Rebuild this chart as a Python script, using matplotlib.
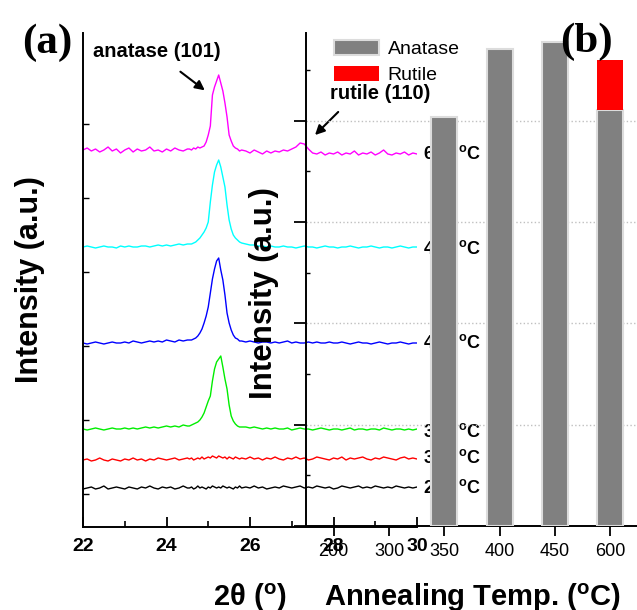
import numpy as np
import matplotlib
matplotlib.use('Agg')
import matplotlib.pyplot as plt
from matplotlib.ticker import FixedLocator

plt.rcParams['font.family'] = ['Liberation Sans', 'DejaVu Sans']
plt.rcParams['mathtext.fontset'] = 'custom'
plt.rcParams['mathtext.rm'] = 'Liberation Sans'
plt.rcParams['mathtext.bf'] = 'Liberation Sans:bold'

# --- (a) XRD curves, 2theta grid (deg) ---
x_left = [22.0, 22.1, 22.2, 22.3, 22.4, 22.5, 22.6, 22.7, 22.8, 22.9, 23.0, 23.1, 23.2,
          23.3, 23.4, 23.5, 23.6, 23.7, 23.8, 23.9, 24.0, 24.1, 24.2, 24.3, 24.4, 24.5]
x_peak = [24.55, 24.6, 24.65, 24.7, 24.75, 24.8, 24.85, 24.9, 24.95, 25.0, 25.05, 25.1, 25.15,
          25.2, 25.25, 25.3, 25.35, 25.4, 25.45, 25.5, 25.55, 25.6, 25.65, 25.7, 25.75, 25.8]
x_right = [25.9, 26.0, 26.1, 26.2, 26.3, 26.4, 26.5, 26.6, 26.7, 26.8, 26.9, 27.0, 27.1, 27.2,
           27.3, 27.4, 27.5, 27.6, 27.7, 27.8, 27.9, 28.0, 28.1, 28.2, 28.3, 28.4, 28.5, 28.6,
           28.7, 28.8, 28.9, 29.0, 29.1, 29.2, 29.3, 29.4, 29.5, 29.6, 29.7, 29.8, 29.9, 30.0]
two_theta = x_left + x_peak + x_right

# intensities (a.u., curves offset as in the figure)
i_600 = [377, 379, 376, 378, 375, 377, 380, 376, 378, 374, 377, 379, 375, 378, 376, 377, 380, 376, 377, 375, 378, 376, 379, 377, 376, 378,
         378, 377, 379, 378, 380, 379, 380, 381, 385, 392, 401, 432, 440, 446, 452, 444, 436, 424, 410, 392, 386, 381, 379, 378, 376, 377,
         376, 374, 377, 375, 373, 376, 374, 376, 375, 377, 376, 378, 380, 384, 383, 378, 374, 373, 375, 372, 374, 373, 375, 372, 374, 373,
         376, 372, 374, 373, 375, 372, 374, 377, 373, 372, 374, 373, 375, 372, 374, 373]
i_450 = [280, 281, 280, 279, 280, 281, 280, 280, 279, 281, 280, 281, 280, 280, 281, 281, 280, 281, 282, 281, 282, 281, 282, 283, 282, 283,
         283, 283, 284, 285, 287, 289, 292, 295, 299, 305, 325, 342, 355, 362, 367, 360, 350, 340, 322, 307, 298, 292, 289, 287, 285, 284,
         283, 282, 282, 281, 281, 280, 281, 280, 280, 281, 280, 280, 279, 280, 281, 280, 280, 279, 280, 281, 280, 280, 279, 280, 280, 281,
         280, 279, 280, 280, 281, 280, 279, 280, 280, 279, 280, 281, 280, 279, 280, 280]
i_400 = [184, 183, 184, 185, 184, 183, 184, 185, 184, 184, 185, 184, 186, 185, 184, 185, 186, 185, 186, 185, 187, 186, 185, 187, 186, 187,
         187, 187, 188, 189, 191, 194, 198, 204, 211, 220, 234, 248, 258, 266, 269, 257, 247, 232, 214, 204, 197, 192, 189, 188, 186, 186,
         185, 186, 185, 184, 185, 185, 184, 185, 184, 185, 186, 184, 185, 184, 184, 185, 184, 185, 184, 184, 185, 184, 184, 185, 184, 183,
         184, 185, 184, 184, 183, 184, 185, 184, 183, 184, 184, 185, 184, 183, 184, 184]
i_350 = [98, 97, 98, 99, 98, 97, 98, 99, 98, 98, 99, 98, 99, 98, 99, 100, 99, 100, 99, 100, 101, 100, 101, 100, 102, 101,
         101, 102, 103, 104, 105, 107, 110, 114, 120, 126, 131, 146, 158, 165, 168, 171, 160, 148, 138, 122, 111, 106, 103, 101, 100, 100,
         100, 99, 100, 99, 98, 99, 98, 99, 98, 98, 99, 97, 98, 99, 98, 98, 97, 98, 99, 98, 97, 98, 98, 97, 98, 99,
         97, 98, 98, 97, 98, 98, 97, 99, 98, 97, 98, 98, 97, 98, 97, 98]
i_300 = [67, 68, 66, 67, 69, 67, 66, 68, 67, 66, 68, 67, 69, 67, 68, 66, 68, 67, 69, 68, 67, 68, 69, 67, 68, 69,
         68, 69, 67, 68, 69, 68, 70, 68, 69, 70, 69, 71, 70, 69, 71, 70, 69, 70, 68, 70, 69, 68, 70, 69, 68, 69,
         68, 70, 68, 69, 67, 69, 68, 70, 68, 67, 69, 68, 70, 68, 69, 67, 68, 70, 69, 68, 67, 69, 68, 70, 67, 69,
         68, 69, 70, 68, 67, 69, 68, 70, 69, 68, 67, 69, 70, 68, 69, 68]
i_200 = [38, 39, 40, 38, 39, 41, 38, 39, 40, 39, 38, 40, 39, 38, 40, 39, 41, 39, 38, 40, 39, 40, 38, 39, 41, 39,
         39, 40, 38, 39, 41, 39, 40, 39, 38, 40, 39, 41, 40, 39, 40, 39, 41, 40, 39, 40, 39, 38, 40, 39, 41, 39,
         40, 39, 41, 39, 40, 38, 39, 40, 39, 41, 40, 39, 40, 41, 39, 40, 39, 41, 40, 39, 40, 38, 39, 41, 40, 39,
         40, 41, 39, 40, 39, 41, 40, 39, 40, 39, 41, 40, 39, 40, 39, 40]

curves = [i_200, i_300, i_350, i_400, i_450, i_600]
curve_colors = ['black', 'red', '#00ee00', 'blue', 'cyan', 'magenta']
curve_labels = ['200', '300', '350', '400', '450', '600']
label_y = [34, 64, 90, 179, 273, 368]

# --- (b) phase bars ---
temp_ticks = ['200', '300', '350', '400', '450', '600']
bar_temps = ['350', '400', '450', '600']
anatase = [80.8, 94.2, 95.5, 82.1]
rutile = [0, 0, 0, 9.8]

fig = plt.figure(figsize=(6.37, 6.10), dpi=100)

# panel (a)
ax_a = fig.add_axes([83 / 637, 83 / 610, 334 / 637, 494 / 610])
for y, c in zip(curves, curve_colors):
    ax_a.plot(two_theta, y, color=c, lw=1.0)
for lab, ly in zip(curve_labels, label_y):
    ax_a.text(30.14, ly, lab + r' $^\mathbf{o}$C', fontsize=13, fontweight='bold')
ax_a.set_xlim(22, 30)
ax_a.set_ylim(0, 494)
ax_a.set_xticks([22, 24, 26, 28, 30])
ax_a.xaxis.set_minor_locator(FixedLocator([23, 25, 27, 29]))
ax_a.set_yticks([33, 107, 181, 255, 329, 403])
ax_a.set_yticklabels([])
ax_a.tick_params(axis='x', which='major', direction='in', length=7, width=1.3,
                 labelsize=14, pad=8)
ax_a.tick_params(axis='x', which='minor', direction='in', length=4, width=1.2)
ax_a.tick_params(axis='y', direction='in', length=4, width=1.0)
for lbl in ax_a.get_xticklabels():
    lbl.set_fontweight('bold')
for s in ['top', 'right']:
    ax_a.spines[s].set_visible(False)
for s in ['left', 'bottom']:
    ax_a.spines[s].set_linewidth(1.4)
ax_a.text(22.24, 470, 'anatase (101)', fontsize=14.5, fontweight='bold')
ax_a.annotate('', xy=(24.97, 435), xytext=(24.28, 457),
              arrowprops=dict(arrowstyle='-|>', color='black', lw=1.5, mutation_scale=14))
ax_a.text(27.92, 428, 'rutile (110)', fontsize=14.5, fontweight='bold')
ax_a.annotate('', xy=(27.51, 390), xytext=(28.16, 417),
              arrowprops=dict(arrowstyle='-|>', color='black', lw=1.5, mutation_scale=14))

# panel (b)
ax_b = fig.add_axes([306 / 637, 84 / 610, 332 / 637, 493 / 610])
ax_b.set_facecolor('none')
pos = [temp_ticks.index(t) for t in bar_temps]
ax_b.bar(pos, anatase, width=0.47, color='#808080', edgecolor='#dcdcdc', lw=1.5,
         label='Anatase', zorder=3)
ax_b.bar(pos, rutile, bottom=anatase, width=0.47, color='#ff0000', edgecolor='none',
         label='Rutile', zorder=3)
ax_b.set_xlim(-0.5, 5.5)
ax_b.set_ylim(0, 97.3)
ax_b.set_xticks(range(len(temp_ticks)))
ax_b.set_xticklabels(temp_ticks)
ax_b.set_yticks([0, 20, 40, 60, 80])
ax_b.yaxis.set_minor_locator(FixedLocator([10, 30, 50, 70, 90]))
ax_b.set_yticklabels([])
ax_b.tick_params(axis='x', direction='out', length=7, width=1.3, labelsize=13, pad=5)
ax_b.tick_params(axis='y', which='major', direction='out', length=9, width=1.3)
ax_b.tick_params(axis='y', which='minor', direction='in', length=3, width=1.0)
ax_b.yaxis.grid(True, which='major', ls=':', color='#c0c0c0', lw=1.0, zorder=0)
ax_b.set_axisbelow(True)
for s in ['top', 'right']:
    ax_b.spines[s].set_visible(False)
for s in ['left', 'bottom']:
    ax_b.spines[s].set_linewidth(1.4)
ax_b.legend(loc='upper left', bbox_to_anchor=(334 / 637, 1 - 40 / 610),
            bbox_transform=fig.transFigure, frameon=False, fontsize=14,
            handlelength=2.3, handleheight=0.8, handletextpad=0.45,
            labelspacing=0.4, borderpad=0, borderaxespad=0)

# labels
fig.text(30 / 637, 1 - 280 / 610, 'Intensity (a.u.)', rotation=90, fontsize=22,
         fontweight='bold', ha='center', va='center')
fig.text(264 / 637, 1 - 293 / 610, 'Intensity (a.u.)', rotation=90, fontsize=22.5,
         fontweight='bold', ha='center', va='center')
fig.text(250 / 637, 4 / 610, r'2θ ($^\mathbf{o}$)', fontsize=21, fontweight='bold',
         ha='center', va='baseline')
fig.text(473 / 637, 4 / 610, r'Annealing Temp. ($^\mathbf{o}$C)', fontsize=21,
         fontweight='bold', ha='center', va='baseline')
fig.text(22 / 637, 1 - 53 / 610, '(a)', family='Liberation Serif', fontweight='bold',
         fontsize=31, va='baseline')
fig.text(560 / 637, 1 - 52 / 610, '(b)', family='Liberation Serif', fontweight='bold',
         fontsize=31, va='baseline')

fig.savefig('out.png', dpi=100)
